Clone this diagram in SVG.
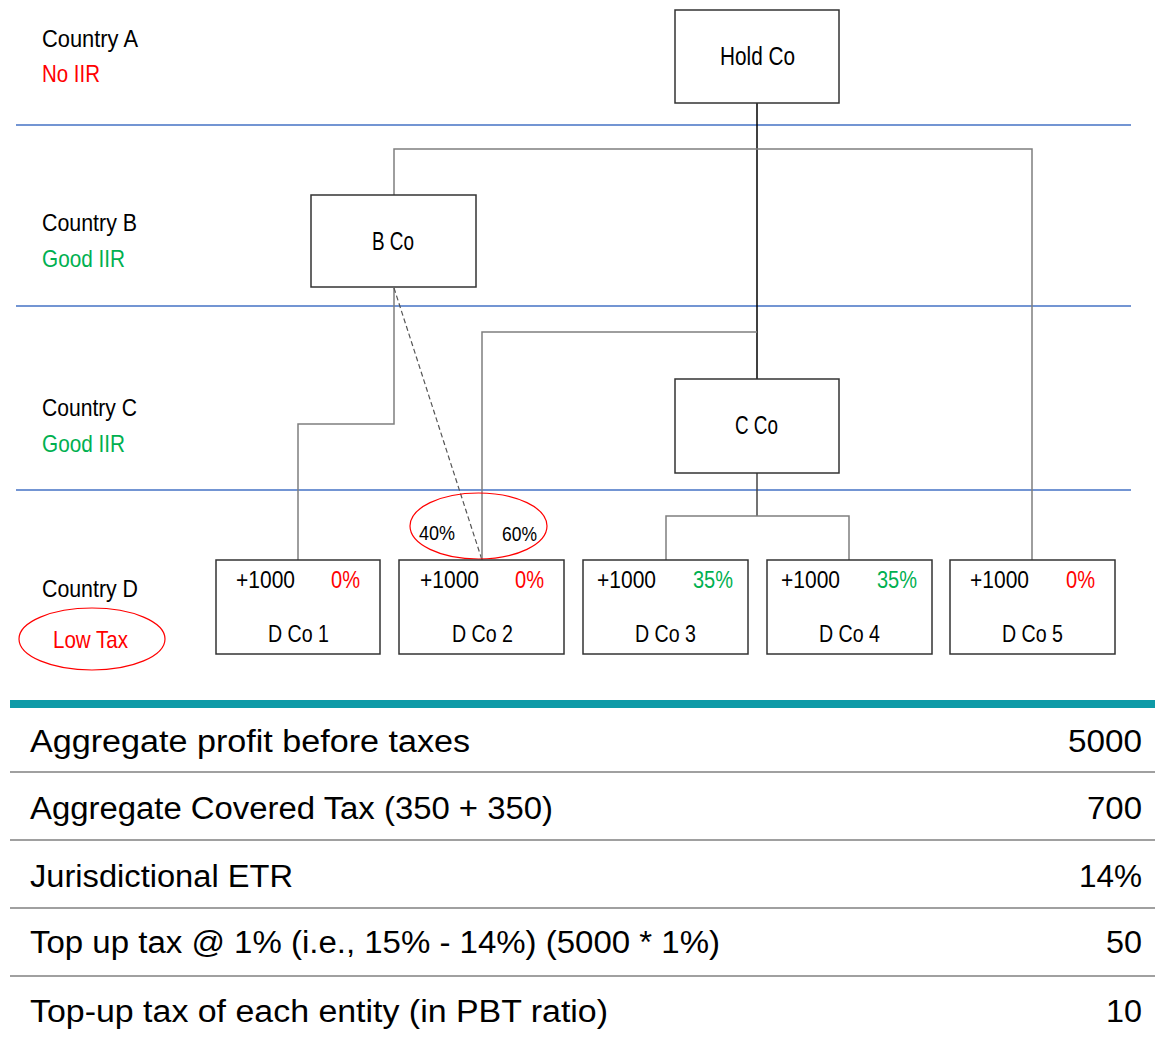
<svg xmlns="http://www.w3.org/2000/svg" width="1155" height="1039" viewBox="0 0 1155 1039">
<style>
  text { font-family: "Liberation Sans", Arial, sans-serif; fill: #000; }
  .lbl { font-size: 24px; }
  .box { fill: #fff; stroke: #333; stroke-width: 1.5; }
  .node { font-size: 25px; }
  .dt { font-size: 24px; }
  .red { fill: #FF0000; }
  .green { fill: #00B050; }
  .band { stroke: #4472C4; stroke-width: 1.4; }
  .conn { fill: none; stroke: #7F7F7F; stroke-width: 1.5; }
  .tbl { font-size: 31px; }
  .rule { stroke: #A0A0A0; stroke-width: 2; }
</style>
<rect width="1155" height="1039" fill="#fff"/>

<g id="bands">
  <line class="band" x1="16" y1="125" x2="1131" y2="125"/>
  <line class="band" x1="16" y1="306" x2="1131" y2="306"/>
  <line class="band" x1="16" y1="490" x2="1131" y2="490"/>
</g>

<g id="country-labels">
  <text class="lbl" x="42" y="47" textLength="96" lengthAdjust="spacingAndGlyphs">Country A</text>
  <text class="lbl red" x="42" y="82" textLength="58" lengthAdjust="spacingAndGlyphs">No IIR</text>
  <text class="lbl" x="42" y="231" textLength="95" lengthAdjust="spacingAndGlyphs">Country B</text>
  <text class="lbl green" x="42" y="267" textLength="83" lengthAdjust="spacingAndGlyphs">Good IIR</text>
  <text class="lbl" x="42" y="416" textLength="95" lengthAdjust="spacingAndGlyphs">Country C</text>
  <text class="lbl green" x="42" y="452" textLength="83" lengthAdjust="spacingAndGlyphs">Good IIR</text>
  <text class="lbl" x="42" y="597" textLength="96" lengthAdjust="spacingAndGlyphs">Country D</text>
  <ellipse cx="92" cy="639" rx="73" ry="31" fill="none" stroke="#FF0000" stroke-width="1.2"/>
  <text class="lbl red" x="53" y="648" textLength="75" lengthAdjust="spacingAndGlyphs">Low Tax</text>
</g>

<g id="connectors">
  <line x1="757" y1="103" x2="757" y2="379" stroke="#000" stroke-width="1.5"/>
  <polyline class="conn" points="394,195 394,149 1032,149 1032,560"/>
  <polyline class="conn" points="394,288 394,424 298,424 298,560"/>
  <line x1="394" y1="288" x2="482" y2="560" stroke="#555" stroke-width="1.2" stroke-dasharray="5,3"/>
  <polyline class="conn" points="757,332 482,332 482,560"/>
  <line x1="757" y1="473" x2="757" y2="516" stroke="#444" stroke-width="1.5"/>
  <polyline class="conn" points="666,560 666,516 849,516 849,560"/>
</g>

<g id="ownership-split">
  <ellipse cx="478.5" cy="526" rx="68.5" ry="33" fill="none" stroke="#FF0000" stroke-width="1.2"/>
  <text x="419" y="540" font-size="21" textLength="36" lengthAdjust="spacingAndGlyphs">40%</text>
  <text x="502" y="541" font-size="21" textLength="35" lengthAdjust="spacingAndGlyphs">60%</text>
</g>

<g id="hold-co">
  <rect class="box" x="675" y="10" width="164" height="93"/>
  <text class="node" x="720" y="65" textLength="75" lengthAdjust="spacingAndGlyphs">Hold Co</text>
</g>
<g id="b-co">
  <rect class="box" x="311" y="195" width="165" height="92"/>
  <text class="node" x="372" y="250" textLength="42" lengthAdjust="spacingAndGlyphs">B Co</text>
</g>
<g id="c-co">
  <rect class="box" x="675" y="379" width="164" height="94"/>
  <text class="node" x="735" y="434" textLength="43" lengthAdjust="spacingAndGlyphs">C Co</text>
</g>

<g id="d-co-1">
  <rect class="box" x="216" y="560" width="164" height="94"/>
  <text class="dt" x="236" y="588" textLength="59" lengthAdjust="spacingAndGlyphs">+1000</text>
  <text class="dt red" x="331" y="588" textLength="29" lengthAdjust="spacingAndGlyphs">0%</text>
  <text class="dt" x="268" y="642" textLength="61" lengthAdjust="spacingAndGlyphs">D Co 1</text>
</g>
<g id="d-co-2">
  <rect class="box" x="399" y="560" width="165" height="94"/>
  <text class="dt" x="420" y="588" textLength="59" lengthAdjust="spacingAndGlyphs">+1000</text>
  <text class="dt red" x="515" y="588" textLength="29" lengthAdjust="spacingAndGlyphs">0%</text>
  <text class="dt" x="452" y="642" textLength="61" lengthAdjust="spacingAndGlyphs">D Co 2</text>
</g>
<g id="d-co-3">
  <rect class="box" x="583" y="560" width="165" height="94"/>
  <text class="dt" x="597" y="588" textLength="59" lengthAdjust="spacingAndGlyphs">+1000</text>
  <text class="dt green" x="693" y="588" textLength="40" lengthAdjust="spacingAndGlyphs">35%</text>
  <text class="dt" x="635" y="642" textLength="61" lengthAdjust="spacingAndGlyphs">D Co 3</text>
</g>
<g id="d-co-4">
  <rect class="box" x="767" y="560" width="165" height="94"/>
  <text class="dt" x="781" y="588" textLength="59" lengthAdjust="spacingAndGlyphs">+1000</text>
  <text class="dt green" x="877" y="588" textLength="40" lengthAdjust="spacingAndGlyphs">35%</text>
  <text class="dt" x="819" y="642" textLength="61" lengthAdjust="spacingAndGlyphs">D Co 4</text>
</g>
<g id="d-co-5">
  <rect class="box" x="950" y="560" width="165" height="94"/>
  <text class="dt" x="970" y="588" textLength="59" lengthAdjust="spacingAndGlyphs">+1000</text>
  <text class="dt red" x="1066" y="588" textLength="29" lengthAdjust="spacingAndGlyphs">0%</text>
  <text class="dt" x="1002" y="642" textLength="61" lengthAdjust="spacingAndGlyphs">D Co 5</text>
</g>

<g id="table">
  <rect x="10" y="700" width="1145" height="8" fill="#0E9AA7"/>
  <line class="rule" x1="10" y1="772" x2="1155" y2="772"/>
  <line class="rule" x1="10" y1="840" x2="1155" y2="840"/>
  <line class="rule" x1="10" y1="908" x2="1155" y2="908"/>
  <line class="rule" x1="10" y1="976" x2="1155" y2="976"/>
  <text class="tbl" x="30" y="752" textLength="440" lengthAdjust="spacingAndGlyphs">Aggregate profit before taxes</text>
  <text class="tbl" x="1142" y="752" text-anchor="end" textLength="74" lengthAdjust="spacingAndGlyphs">5000</text>
  <text class="tbl" x="30" y="819" textLength="523" lengthAdjust="spacingAndGlyphs">Aggregate Covered Tax (350 + 350)</text>
  <text class="tbl" x="1142" y="819" text-anchor="end" textLength="55" lengthAdjust="spacingAndGlyphs">700</text>
  <text class="tbl" x="30" y="887" textLength="263" lengthAdjust="spacingAndGlyphs">Jurisdictional ETR</text>
  <text class="tbl" x="1142" y="887" text-anchor="end" textLength="63" lengthAdjust="spacingAndGlyphs">14%</text>
  <text class="tbl" x="30" y="953" textLength="690" lengthAdjust="spacingAndGlyphs">Top up tax @ 1% (i.e., 15% - 14%) (5000 * 1%)</text>
  <text class="tbl" x="1142" y="953" text-anchor="end" textLength="36" lengthAdjust="spacingAndGlyphs">50</text>
  <text class="tbl" x="30" y="1022" textLength="578" lengthAdjust="spacingAndGlyphs">Top-up tax of each entity (in PBT ratio)</text>
  <text class="tbl" x="1142" y="1022" text-anchor="end" textLength="36" lengthAdjust="spacingAndGlyphs">10</text>
</g>
</svg>
